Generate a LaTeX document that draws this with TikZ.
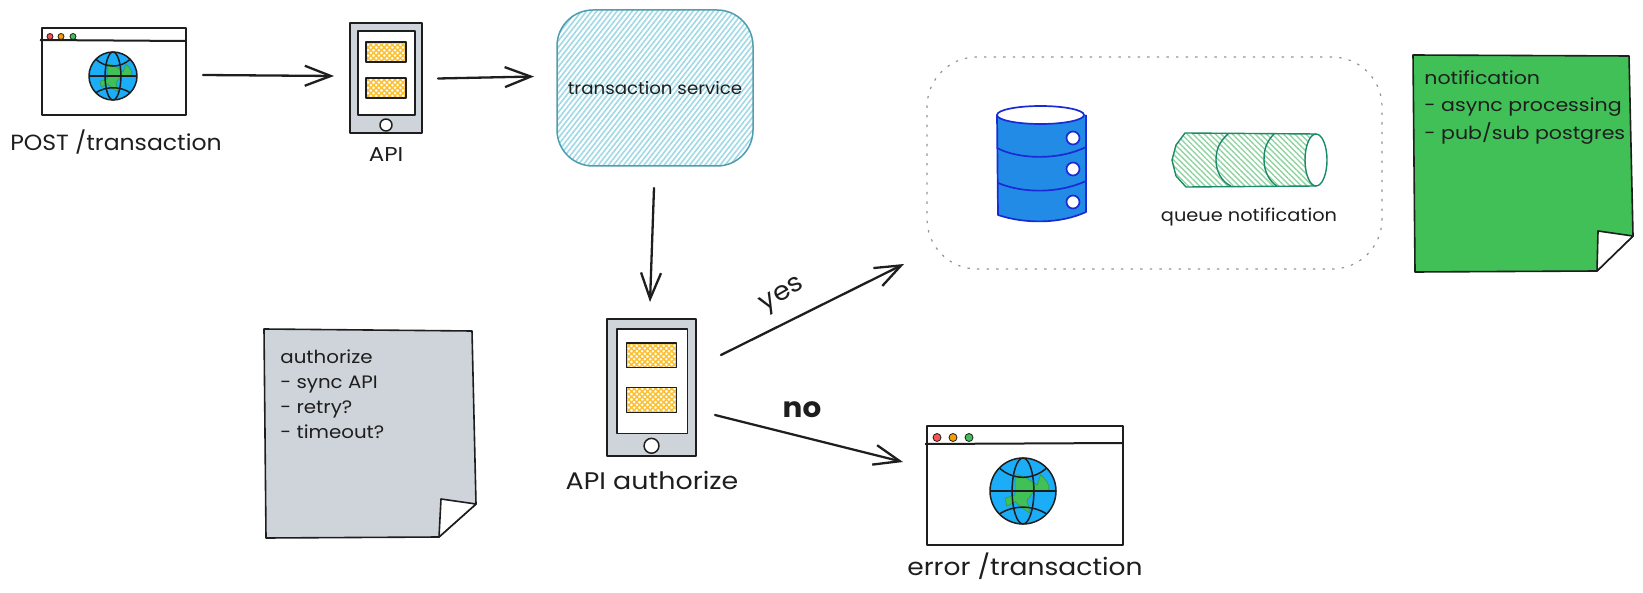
\documentclass[tikz,border=0pt]{standalone}
\usepackage{fontspec}
\setmainfont{Poppins}
\usetikzlibrary{arrows.meta,calc,patterns.meta}
\definecolor{ink}{HTML}{1E1E1E}
\definecolor{phonegray}{HTML}{CED4DA}
\definecolor{hatchyellow}{HTML}{FCC02E}
\definecolor{globeblue}{HTML}{1BADF8}
\definecolor{okgreen}{HTML}{40C057}
\definecolor{dotred}{HTML}{FA5252}
\definecolor{dotorange}{HTML}{F59F00}
\definecolor{svcline}{HTML}{4F9DAE}
\definecolor{svchatch}{HTML}{9FD9E6}
\definecolor{dbblue}{HTML}{228BE6}
\definecolor{dbline}{HTML}{1A2BD6}
\definecolor{qline}{HTML}{1B8A6B}
\definecolor{qhatch}{HTML}{8FD4A0}
\newcommand{\wfont}[3]{\fontsize{#1}{#2}\selectfont\addfontfeatures{FakeStretch=#3}}
\tikzset{
  x=0.5pt,y=-0.5pt,
  sketch/.style={draw=ink,line width=0.75pt,line join=round},
  arr/.style={draw=ink,line width=1.15pt,line cap=round,-{Straight Barb[length=13pt,width=10pt,line width=1.15pt]}},
  browserbox/.style={sketch,fill=white,rectangle,inner sep=0pt,outer sep=0pt},
  phonebox/.style={sketch,fill=phonegray,rectangle,inner sep=0pt,outer sep=0pt},
  lbl/.style={text=ink,inner sep=0pt},
  notetext/.style={text=ink,inner sep=0pt,align=left},
  notepaper/.style={sketch,line width=0.8pt},
  crosshatch/.style={pattern={Lines[angle=45,distance=1.9pt,line width=.75pt]},pattern color=hatchyellow,
     postaction={pattern={Lines[angle=-45,distance=1.9pt,line width=.75pt]},pattern color=hatchyellow}},
  phoneinner/.pic={
    \draw[sketch,fill=white] (-28,-47) rectangle (29,37);
    \path[crosshatch] (-20,-36) rectangle (20,-16);
    \draw[sketch] (-20,-36) rectangle (20,-16);
    \path[crosshatch] (-20,0) rectangle (20,20);
    \draw[sketch] (-20,0) rectangle (20,20);
    \draw[sketch,fill=white] (0,47) circle (6);
  },
  globe/.pic={
    \fill[globeblue] (0,0) circle (1);
    \fill[okgreen,draw=okgreen!80!black,line width=.3pt] (-.24,-.49) .. controls (.05,-.5) and (.2,-.3) .. (.43,-.18)
      -- (.53,-.49) .. controls (.7,-.35) and (.82,-.2) .. (.78,-.03)
      -- (.33,.02) -- (.12,.28) -- (.22,.68) .. controls (.05,.55) and (-.15,.45) .. (-.23,.32)
      -- (-.49,.46) -- (-.54,.22) -- (-.24,.12) -- cycle;
    \draw[sketch] (0,0) circle (1);
    \draw[sketch] (0,0) ellipse (.33 and 1);
    \draw[sketch] (-1,0) -- (1,0);
    \draw[sketch] (-.72,-.7) .. controls (-.3,-.32) and (.3,-.32) .. (.72,-.7);
    \draw[sketch] (-.72,.7) .. controls (-.3,.42) and (.3,.42) .. (.72,.7);
  }
}
\begin{document}
\begin{tikzpicture}
\useasboundingbox (0,0) rectangle (1643,593);

% top browser
\node[browserbox,minimum width=72pt,minimum height=43.5pt] (b1) at (114,71.5) {};
\draw[sketch,line width=1pt] (40,40) -- (186,41);
\path[sketch,line width=.4pt,fill=dotred] (50,36.5) circle (3);
\path[sketch,line width=.4pt,fill=dotorange] (61,36.5) circle (3);
\path[sketch,line width=.4pt,fill=okgreen] (73,36.5) circle (3);
\pic[scale=24] at (113,76) {globe};
\node[lbl,font=\wfont{11}{13}{1.07}] (l1) at (116,142) {POST /transaction};

% first phone
\node[phonebox,minimum width=36pt,minimum height=55pt] (p1) at (386,78) {};
\pic at (p1) {phoneinner};
\node[lbl,font=\wfont{10}{12}{1.15}] (l2) at (386,155) {API};

% service
\node[rectangle,rounded corners=18pt,draw=svcline,line width=.75pt,
  pattern={Lines[angle=52,distance=2pt,line width=.8pt]},pattern color=svchatch,
  minimum width=98pt,minimum height=78pt,inner sep=0pt,outer sep=0pt] (svc) at (655,88) {};
\node[lbl,font=\wfont{8.6}{10}{1.06}] (l3) at (655,88) {transaction service};

% second phone
\node[phonebox,minimum width=44.5pt,minimum height=68.5pt] (p2) at (651.5,387.5) {};
\pic[scale=1.24] at (p2) {phoneinner};
\node[lbl,font=\wfont{12}{14}{1.12}] (l4) at (652,480) {API authorize};

% dotted group
\node[rectangle,rounded corners=25pt,draw=gray!85,line width=.6pt,
  dash pattern=on 1.2pt off 3.6pt,minimum width=227.5pt,minimum height=106pt,
  inner sep=0pt,outer sep=0pt] (g) at (1154.5,163) {};

% database
\path[fill=dbblue] (997,115) -- (998,215) .. controls (1025,224) and (1060,224) .. (1086,212) -- (1086,115) -- cycle;
\draw[draw=dbline,line width=.85pt,line join=round]
  (997,115) -- (998,215) .. controls (1025,224) and (1060,224) .. (1086,212) -- (1086,115);
\draw[draw=dbline,line width=.85pt,fill=white] (1040.5,115) ellipse (43.5 and 9);
\draw[draw=dbline,line width=.85pt] (997,148) .. controls (1020,160) and (1060,160) .. (1086,147);
\draw[draw=dbline,line width=.85pt] (998,183) .. controls (1025,194) and (1060,193) .. (1086,181);
\foreach \hy in {138,169,202}{\draw[draw=dbline,line width=.85pt,fill=white] (1073,\hy) circle (6.5);}

% queue
\path[pattern={Lines[angle=-45,distance=2pt,line width=.7pt]},pattern color=qhatch]
  (1185,133) -- (1316,134) -- (1316,186) -- (1186,187) -- (1176,176) -- (1172,160) -- (1176,145) -- cycle;
\draw[draw=qline,line width=.7pt,line join=round]
  (1316,134) -- (1185,133) -- (1176,145) -- (1172,160) -- (1176,176) -- (1186,187) -- (1316,186);
\draw[draw=qline,line width=.7pt] (1228,134) .. controls (1219,142) and (1216,150) .. (1216,160) .. controls (1216,172) and (1222,182) .. (1231,186);
\draw[draw=qline,line width=.7pt] (1274,134) .. controls (1266,142) and (1264,150) .. (1264,160) .. controls (1264,172) and (1270,182) .. (1277,186);
\draw[draw=qline,line width=.7pt,fill=white] (1316,160) ellipse (11 and 26);
\node[lbl,font=\wfont{8.8}{10}{1.1}] (l5) at (1249,217) {queue notification};

% green note
\draw[notepaper,fill=okgreen] (1413,55) -- (1629,56) -- (1633,236) -- (1597,271) -- (1415,272) -- cycle;
\draw[notepaper,fill=white] (1598,231) -- (1633,236) -- (1597,271) -- cycle;
\node[notetext,anchor=north west,font=\wfont{9}{13.9}{1.14}] (n1) at (1424,70) {notification\\- async processing\\- pub/sub postgres};

% gray note
\draw[notepaper,fill=phonegray] (264,329) -- (472,331) -- (476,504) -- (439,537) -- (266,538) -- cycle;
\draw[notepaper,fill=white] (441,499) -- (476,504) -- (439,537) -- cycle;
\node[notetext,anchor=north west,font=\wfont{9}{12.5}{1.1}] (n2) at (280,349) {authorize\\- sync API\\- retry?\\- timeout?};

% error browser
\node[browserbox,minimum width=98pt,minimum height=59.5pt] (b2) at (1025,485.5) {};
\draw[sketch,line width=1pt] (925,444) -- (1123,443);
\path[sketch,line width=.4pt,fill=dotred] (937,437.5) circle (4);
\path[sketch,line width=.4pt,fill=dotorange] (953,437.5) circle (4);
\path[sketch,line width=.4pt,fill=okgreen] (969,437.5) circle (4);
\pic[scale=33] at (1023,491) {globe};
\node[lbl,font=\wfont{12}{14}{1.105}] (l6) at (1025,566) {error /transaction};

% connectors
\draw[arr] ($(b1.east)+(17,3.5)$) -- ($(p1.west)+(-16,-2)$);
\draw[arr] ($(p1.east)+(16,.5)$) -- ($(svc.west)+(-23,-11.5)$);
\draw[arr] ($(svc.south)+(-1,22)$) -- ($(p2.north)+(-1.5,-17)$);
\draw[arr] ($(p2.east)+(25,-32.5)$) -- ($(g.south west)+(-23,-5)$);
\draw[arr] ($(p2.east)+(19,27.5)$) -- ($(b2.west)+(-24,-23.5)$);
\node[lbl,rotate=30,font=\wfont{13}{15}{1.05}] (yes) at (783,296) {yes};
\node[lbl,font=\wfont{14}{16}{1.05}\bfseries] (no) at (802,410) {no};
\end{tikzpicture}
\end{document}
